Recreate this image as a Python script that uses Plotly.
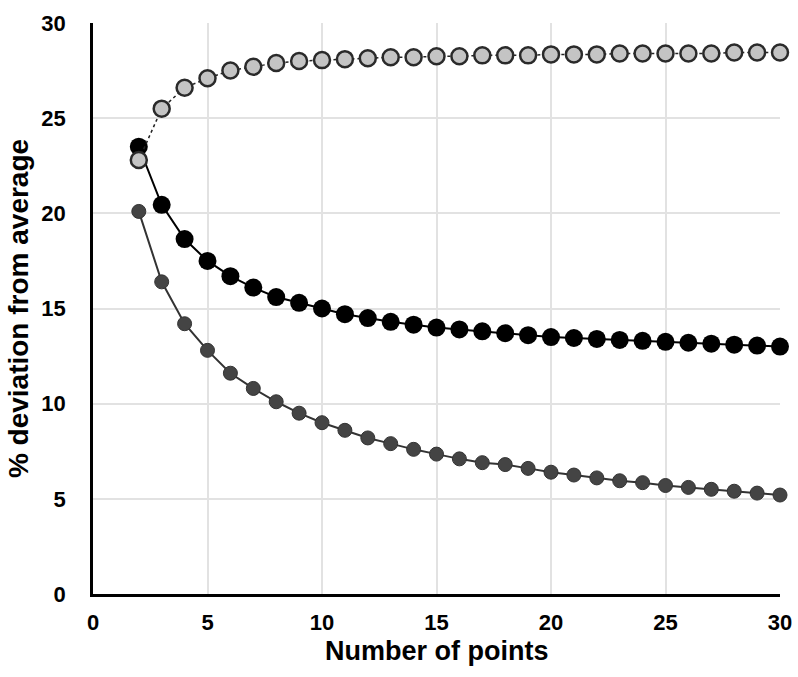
import plotly.graph_objects as go

n_points = list(range(2, 31))

open_series = [22.8, 25.5, 26.6, 27.1, 27.5, 27.7, 27.9, 28.0, 28.05, 28.1, 28.15, 28.2, 28.2,
               28.25, 28.25, 28.3, 28.3, 28.3, 28.35, 28.35, 28.35, 28.4, 28.4, 28.4, 28.4,
               28.4, 28.45, 28.45, 28.45]
black_series = [23.5, 20.45, 18.65, 17.5, 16.7, 16.1, 15.6, 15.3, 15.0, 14.7, 14.5, 14.3, 14.15,
                14.0, 13.9, 13.8, 13.7, 13.6, 13.5, 13.45, 13.4, 13.35, 13.3, 13.25, 13.2,
                13.15, 13.1, 13.05, 13.0]
gray_series = [20.1, 16.4, 14.2, 12.8, 11.6, 10.8, 10.1, 9.5, 9.0, 8.6, 8.2, 7.9, 7.6, 7.35,
               7.1, 6.9, 6.8, 6.6, 6.4, 6.25, 6.1, 5.95, 5.85, 5.7, 5.6, 5.5, 5.4, 5.3, 5.2]

x_ticks = [0, 5, 10, 15, 20, 25, 30]
y_ticks = [0, 5, 10, 15, 20, 25, 30]

x_title = "Number of points"
y_title = "% deviation from average"

FONT = "Liberation Sans, Arial, sans-serif"

fig = go.Figure()
fig.add_trace(go.Scatter(
    x=n_points, y=gray_series, mode="lines+markers", cliponaxis=False,
    line=dict(color="#333333", width=2),
    marker=dict(size=14, color="#444444", line=dict(color="#333333", width=1)),
    showlegend=False))
fig.add_trace(go.Scatter(
    x=n_points, y=black_series, mode="lines+markers", cliponaxis=False,
    line=dict(color="#000000", width=2),
    marker=dict(size=18, color="#000000"),
    showlegend=False))
fig.add_trace(go.Scatter(
    x=n_points, y=open_series, mode="lines+markers", cliponaxis=False,
    line=dict(color="#222222", width=1.5, dash="dot"),
    marker=dict(size=16, color="#c4c4c4", line=dict(color="#2a2a2a", width=2.5)),
    showlegend=False))

fig.update_layout(
    width=798, height=677,
    margin=dict(l=93, r=18, t=23, b=83),
    plot_bgcolor="white", paper_bgcolor="white",
    font=dict(family=FONT, color="black"),
    xaxis=dict(range=[0, 30], tickvals=x_ticks, ticktext=[f"<b>{v}</b>" for v in x_ticks],
               automargin=False,
               showgrid=True, gridcolor="#e2e2e2", gridwidth=1.5,
               showline=True, linecolor="black", linewidth=2.5, zeroline=False,
               ticks="", ticklabelstandoff=7, tickfont=dict(size=22, family=FONT)),
    yaxis=dict(range=[0, 30], tickvals=y_ticks, ticktext=[f"<b>{v}</b>" for v in y_ticks],
               automargin=False,
               showgrid=True, gridcolor="#e2e2e2", gridwidth=1.5,
               showline=True, linecolor="black", linewidth=2.5, zeroline=False,
               ticks="", ticklabelstandoff=20, tickfont=dict(size=22, family=FONT),
               title=dict(text=f"<b>{y_title}</b>", font=dict(size=28, family=FONT), standoff=5)),
    annotations=[dict(text=f"<b>{x_title}</b>", xref="paper", yref="paper",
                      x=0.5, y=-0.1, xanchor="center", yanchor="middle",
                      showarrow=False, font=dict(size=27, family=FONT))],
)

fig.write_html("out.html", config={"displayModeBar": False},
               post_script="document.body.style.margin='0';document.body.style.overflow='hidden';")
